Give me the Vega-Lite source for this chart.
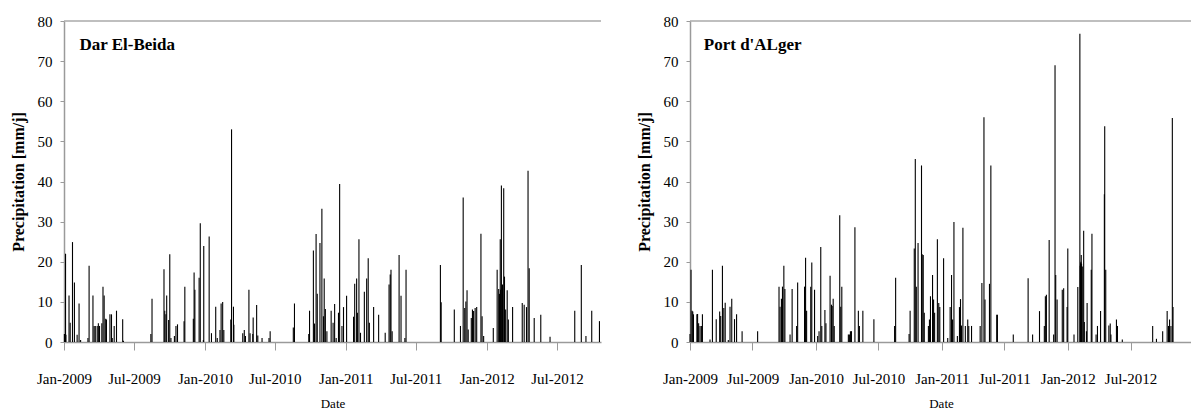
{
  "$schema": "https://vega.github.io/schema/vega-lite/v6.json",
  "background": "white",
  "padding": {"left": 10, "top": 14, "right": 0, "bottom": 0},
  "spacing": 34,
  "config": {
    "font": "Liberation Serif",
    "view": {"stroke": null},
    "axis": {
      "grid": false,
      "domainColor": "#9a9a9a",
      "domainWidth": 1.5,
      "tickColor": "#9a9a9a",
      "labelFont": "Liberation Serif",
      "labelFontSize": 14,
      "labelColor": "#000000",
      "labelOverlap": false,
      "labelFlush": false,
      "titleFont": "Liberation Serif",
      "titleColor": "#000000"
    }
  },
  "datasets": {
    "dar": [
      {"date": "2009-01-02", "p": 2}, {"date": "2009-01-03", "p": 2}, {"date": "2009-01-04", "p": 1.8}, {"date": "2009-01-05", "p": 22}, {"date": "2009-01-06", "p": 1.8},
      {"date": "2009-01-14", "p": 11.6}, {"date": "2009-01-17", "p": 4.8}, {"date": "2009-01-23", "p": 24.9}, {"date": "2009-01-28", "p": 14.8},
      {"date": "2009-02-04", "p": 1.8}, {"date": "2009-02-09", "p": 9.6}, {"date": "2009-02-13", "p": 0.5},
      {"date": "2009-03-04", "p": 1}, {"date": "2009-03-07", "p": 19}, {"date": "2009-03-17", "p": 11.6}, {"date": "2009-03-20", "p": 4}, {"date": "2009-03-23", "p": 4}, {"date": "2009-03-28", "p": 4}, {"date": "2009-03-31", "p": 4.7},
      {"date": "2009-04-03", "p": 4}, {"date": "2009-04-09", "p": 4.7}, {"date": "2009-04-12", "p": 13.8}, {"date": "2009-04-15", "p": 11.6}, {"date": "2009-04-19", "p": 5.8}, {"date": "2009-04-21", "p": 5.6}, {"date": "2009-04-30", "p": 6.9},
      {"date": "2009-05-04", "p": 6.9}, {"date": "2009-05-06", "p": 1}, {"date": "2009-05-11", "p": 4}, {"date": "2009-05-17", "p": 7.8},
      {"date": "2009-06-02", "p": 5.7}, {"date": "2009-06-04", "p": 0.3},
      {"date": "2009-08-14", "p": 2}, {"date": "2009-08-17", "p": 10.8},
      {"date": "2009-09-17", "p": 18.1}, {"date": "2009-09-19", "p": 7.8}, {"date": "2009-09-22", "p": 6.9}, {"date": "2009-09-24", "p": 11.6}, {"date": "2009-09-29", "p": 5.5},
      {"date": "2009-10-02", "p": 21.9}, {"date": "2009-10-05", "p": 1}, {"date": "2009-10-14", "p": 1.5}, {"date": "2009-10-18", "p": 4}, {"date": "2009-10-22", "p": 4.4},
      {"date": "2009-11-08", "p": 5.2}, {"date": "2009-11-10", "p": 13.8},
      {"date": "2009-12-02", "p": 5.8}, {"date": "2009-12-04", "p": 17.3}, {"date": "2009-12-06", "p": 13}, {"date": "2009-12-17", "p": 16}, {"date": "2009-12-20", "p": 29.6}, {"date": "2009-12-28", "p": 0.5}, {"date": "2009-12-29", "p": 23.9},
      {"date": "2010-01-12", "p": 26.3}, {"date": "2010-01-18", "p": 2.2}, {"date": "2010-01-29", "p": 8.8},
      {"date": "2010-02-02", "p": 1}, {"date": "2010-02-09", "p": 3}, {"date": "2010-02-12", "p": 9.6}, {"date": "2010-02-16", "p": 10}, {"date": "2010-02-19", "p": 3},
      {"date": "2010-03-09", "p": 5.6}, {"date": "2010-03-11", "p": 53}, {"date": "2010-03-16", "p": 8.8}, {"date": "2010-03-17", "p": 4.3},
      {"date": "2010-04-09", "p": 2.2}, {"date": "2010-04-13", "p": 3}, {"date": "2010-04-16", "p": 1.5}, {"date": "2010-04-25", "p": 13}, {"date": "2010-04-28", "p": 2.2},
      {"date": "2010-05-05", "p": 2}, {"date": "2010-05-06", "p": 6.1}, {"date": "2010-05-15", "p": 9.2}, {"date": "2010-05-18", "p": 1.6}, {"date": "2010-05-29", "p": 1},
      {"date": "2010-06-16", "p": 1}, {"date": "2010-06-19", "p": 2.7},
      {"date": "2010-08-18", "p": 3.6}, {"date": "2010-08-21", "p": 9.6},
      {"date": "2010-09-27", "p": 2}, {"date": "2010-09-29", "p": 7.8},
      {"date": "2010-10-09", "p": 22.8}, {"date": "2010-10-12", "p": 4.6}, {"date": "2010-10-16", "p": 26.9}, {"date": "2010-10-19", "p": 12}, {"date": "2010-10-26", "p": 24.7}, {"date": "2010-10-31", "p": 33.2},
      {"date": "2010-11-04", "p": 6.4}, {"date": "2010-11-06", "p": 15.8}, {"date": "2010-11-09", "p": 8.2}, {"date": "2010-11-13", "p": 2.7}, {"date": "2010-11-24", "p": 7.8}, {"date": "2010-11-29", "p": 4.8},
      {"date": "2010-12-03", "p": 9.5}, {"date": "2010-12-07", "p": 1}, {"date": "2010-12-13", "p": 7.3}, {"date": "2010-12-16", "p": 39.4}, {"date": "2010-12-22", "p": 4}, {"date": "2010-12-26", "p": 8.7},
      {"date": "2011-01-03", "p": 11.5}, {"date": "2011-01-21", "p": 6.3}, {"date": "2011-01-24", "p": 14.5}, {"date": "2011-01-29", "p": 15.8}, {"date": "2011-01-31", "p": 7.3},
      {"date": "2011-02-04", "p": 25.6}, {"date": "2011-02-08", "p": 2.3}, {"date": "2011-02-18", "p": 12.5}, {"date": "2011-02-24", "p": 15.8}, {"date": "2011-02-28", "p": 20.9},
      {"date": "2011-03-03", "p": 4.8}, {"date": "2011-03-14", "p": 8.7}, {"date": "2011-03-27", "p": 6.8},
      {"date": "2011-04-13", "p": 2.3}, {"date": "2011-04-23", "p": 14.3}, {"date": "2011-04-26", "p": 16.8}, {"date": "2011-04-28", "p": 18},
      {"date": "2011-05-01", "p": 2.7}, {"date": "2011-05-19", "p": 21.7}, {"date": "2011-05-24", "p": 11.5},
      {"date": "2011-06-03", "p": 1}, {"date": "2011-06-06", "p": 18},
      {"date": "2011-09-03", "p": 19.2}, {"date": "2011-09-05", "p": 9.9},
      {"date": "2011-10-09", "p": 8.1}, {"date": "2011-10-25", "p": 4},
      {"date": "2011-11-01", "p": 36}, {"date": "2011-11-05", "p": 8.5}, {"date": "2011-11-08", "p": 10.1}, {"date": "2011-11-11", "p": 12.9}, {"date": "2011-11-14", "p": 3.1}, {"date": "2011-11-22", "p": 6}, {"date": "2011-11-25", "p": 8.1}, {"date": "2011-11-28", "p": 7.7},
      {"date": "2011-12-02", "p": 8.5}, {"date": "2011-12-06", "p": 8.7}, {"date": "2011-12-17", "p": 27}, {"date": "2011-12-20", "p": 6.4}, {"date": "2011-12-24", "p": 1.5},
      {"date": "2012-01-18", "p": 3.5}, {"date": "2012-01-28", "p": 18},
      {"date": "2012-02-01", "p": 13.2}, {"date": "2012-02-03", "p": 12}, {"date": "2012-02-05", "p": 25.6}, {"date": "2012-02-06", "p": 13}, {"date": "2012-02-08", "p": 39}, {"date": "2012-02-10", "p": 13.5}, {"date": "2012-02-11", "p": 14.3}, {"date": "2012-02-14", "p": 38.3}, {"date": "2012-02-16", "p": 16.3}, {"date": "2012-02-19", "p": 8.1}, {"date": "2012-02-23", "p": 12.9}, {"date": "2012-02-26", "p": 5.6},
      {"date": "2012-03-08", "p": 8.7},
      {"date": "2012-04-02", "p": 9.7}, {"date": "2012-04-07", "p": 9.3}, {"date": "2012-04-13", "p": 8.7}, {"date": "2012-04-17", "p": 42.7}, {"date": "2012-04-20", "p": 18.4},
      {"date": "2012-05-03", "p": 6}, {"date": "2012-05-20", "p": 6.8},
      {"date": "2012-06-13", "p": 1.3},
      {"date": "2012-08-16", "p": 7.8},
      {"date": "2012-09-02", "p": 19.2}, {"date": "2012-09-14", "p": 1.5}, {"date": "2012-09-29", "p": 7.8},
      {"date": "2012-10-19", "p": 5.2}
    ],
    "port": [
      {"date": "2009-01-01", "p": 2}, {"date": "2009-01-04", "p": 18}, {"date": "2009-01-07", "p": 7.8}, {"date": "2009-01-09", "p": 7.6}, {"date": "2009-01-11", "p": 6.9},
      {"date": "2009-01-21", "p": 6.9}, {"date": "2009-01-23", "p": 7}, {"date": "2009-01-26", "p": 4.7}, {"date": "2009-01-30", "p": 4},
      {"date": "2009-02-03", "p": 4}, {"date": "2009-02-06", "p": 6.9}, {"date": "2009-02-28", "p": 0.6},
      {"date": "2009-03-07", "p": 18}, {"date": "2009-03-18", "p": 5.7}, {"date": "2009-03-28", "p": 7.6}, {"date": "2009-03-31", "p": 6.5},
      {"date": "2009-04-05", "p": 19}, {"date": "2009-04-09", "p": 8.5}, {"date": "2009-04-13", "p": 9.8}, {"date": "2009-04-22", "p": 0.5}, {"date": "2009-04-27", "p": 8.8},
      {"date": "2009-05-02", "p": 10.8}, {"date": "2009-05-10", "p": 5.7}, {"date": "2009-05-16", "p": 6.9},
      {"date": "2009-06-01", "p": 2.7}, {"date": "2009-07-16", "p": 2.7},
      {"date": "2009-09-16", "p": 13.8}, {"date": "2009-09-19", "p": 8.8}, {"date": "2009-09-23", "p": 10.8}, {"date": "2009-09-26", "p": 13.8}, {"date": "2009-09-30", "p": 19},
      {"date": "2009-10-03", "p": 13.2}, {"date": "2009-10-18", "p": 1.9}, {"date": "2009-10-24", "p": 13.2},
      {"date": "2009-11-06", "p": 4}, {"date": "2009-11-09", "p": 14.8}, {"date": "2009-11-29", "p": 13.8},
      {"date": "2009-12-02", "p": 21}, {"date": "2009-12-05", "p": 7.8}, {"date": "2009-12-17", "p": 13.8}, {"date": "2009-12-20", "p": 19.8}, {"date": "2009-12-28", "p": 13},
      {"date": "2010-01-06", "p": 1.5}, {"date": "2010-01-10", "p": 2.7}, {"date": "2010-01-15", "p": 23.7}, {"date": "2010-01-18", "p": 4}, {"date": "2010-01-27", "p": 8}, {"date": "2010-01-30", "p": 4.7},
      {"date": "2010-02-11", "p": 16.5}, {"date": "2010-02-15", "p": 9.3}, {"date": "2010-02-17", "p": 9}, {"date": "2010-02-20", "p": 10.8}, {"date": "2010-02-23", "p": 4},
      {"date": "2010-03-11", "p": 31.6}, {"date": "2010-03-14", "p": 8.8}, {"date": "2010-03-17", "p": 13.8},
      {"date": "2010-04-05", "p": 1.9}, {"date": "2010-04-08", "p": 1.9}, {"date": "2010-04-11", "p": 2.7}, {"date": "2010-04-14", "p": 2.7}, {"date": "2010-04-24", "p": 28.6},
      {"date": "2010-05-04", "p": 7.8}, {"date": "2010-05-07", "p": 4}, {"date": "2010-05-17", "p": 7.8},
      {"date": "2010-06-18", "p": 5.7},
      {"date": "2010-08-17", "p": 4}, {"date": "2010-08-20", "p": 16},
      {"date": "2010-09-28", "p": 2}, {"date": "2010-10-01", "p": 7.8}, {"date": "2010-10-13", "p": 23.3}, {"date": "2010-10-16", "p": 45.6}, {"date": "2010-10-19", "p": 13.8}, {"date": "2010-10-24", "p": 24.7},
      {"date": "2010-11-03", "p": 44}, {"date": "2010-11-05", "p": 21.9}, {"date": "2010-11-08", "p": 21.7}, {"date": "2010-11-11", "p": 7.3}, {"date": "2010-11-23", "p": 4}, {"date": "2010-11-26", "p": 5.6}, {"date": "2010-11-29", "p": 11.4},
      {"date": "2010-12-05", "p": 16.7}, {"date": "2010-12-08", "p": 10.6}, {"date": "2010-12-11", "p": 7.3}, {"date": "2010-12-19", "p": 25.6}, {"date": "2010-12-23", "p": 9.7}, {"date": "2010-12-26", "p": 8.7},
      {"date": "2011-01-06", "p": 20.9}, {"date": "2011-01-18", "p": 1}, {"date": "2011-01-25", "p": 8.7}, {"date": "2011-01-29", "p": 16.7},
      {"date": "2011-02-01", "p": 5.6}, {"date": "2011-02-05", "p": 29.9}, {"date": "2011-02-15", "p": 1.5}, {"date": "2011-02-21", "p": 8.7}, {"date": "2011-02-24", "p": 10.7}, {"date": "2011-02-27", "p": 4.1},
      {"date": "2011-03-03", "p": 28.5}, {"date": "2011-03-10", "p": 4}, {"date": "2011-03-17", "p": 5.6}, {"date": "2011-03-20", "p": 4}, {"date": "2011-03-28", "p": 4},
      {"date": "2011-04-22", "p": 4}, {"date": "2011-04-27", "p": 14.7},
      {"date": "2011-05-03", "p": 56}, {"date": "2011-05-06", "p": 10.6}, {"date": "2011-05-19", "p": 14.5}, {"date": "2011-05-23", "p": 44},
      {"date": "2011-06-09", "p": 6.8}, {"date": "2011-06-11", "p": 6.8},
      {"date": "2011-07-27", "p": 1.9},
      {"date": "2011-09-08", "p": 15.9}, {"date": "2011-09-21", "p": 1.9},
      {"date": "2011-10-11", "p": 7.7}, {"date": "2011-10-25", "p": 4}, {"date": "2011-10-28", "p": 11.4}, {"date": "2011-10-31", "p": 11.8},
      {"date": "2011-11-08", "p": 25.4}, {"date": "2011-11-21", "p": 1.9}, {"date": "2011-11-25", "p": 69}, {"date": "2011-11-27", "p": 16.7},
      {"date": "2011-12-01", "p": 10.6}, {"date": "2011-12-16", "p": 13}, {"date": "2011-12-20", "p": 13.4}, {"date": "2011-12-30", "p": 8.7},
      {"date": "2012-01-01", "p": 23.3}, {"date": "2012-01-19", "p": 1.9}, {"date": "2012-01-30", "p": 13.7},
      {"date": "2012-02-05", "p": 76.8}, {"date": "2012-02-06", "p": 19}, {"date": "2012-02-07", "p": 19.6}, {"date": "2012-02-08", "p": 20}, {"date": "2012-02-09", "p": 21.7}, {"date": "2012-02-10", "p": 19.5}, {"date": "2012-02-12", "p": 18.8}, {"date": "2012-02-16", "p": 27.7}, {"date": "2012-02-18", "p": 5}, {"date": "2012-02-24", "p": 2.7}, {"date": "2012-02-26", "p": 9.7},
      {"date": "2012-03-09", "p": 18}, {"date": "2012-03-11", "p": 27}, {"date": "2012-03-23", "p": 1.9}, {"date": "2012-03-27", "p": 4},
      {"date": "2012-04-05", "p": 7.7}, {"date": "2012-04-16", "p": 36.8}, {"date": "2012-04-17", "p": 53.8}, {"date": "2012-04-20", "p": 18}, {"date": "2012-04-29", "p": 4.1},
      {"date": "2012-05-03", "p": 4.6}, {"date": "2012-05-05", "p": 1.9}, {"date": "2012-05-21", "p": 5.6}, {"date": "2012-05-24", "p": 4},
      {"date": "2012-06-07", "p": 0.6},
      {"date": "2012-09-03", "p": 4}, {"date": "2012-09-14", "p": 0.8},
      {"date": "2012-10-02", "p": 2.7}, {"date": "2012-10-15", "p": 7.7}, {"date": "2012-10-19", "p": 4}, {"date": "2012-10-22", "p": 5.6}, {"date": "2012-10-26", "p": 4}, {"date": "2012-10-30", "p": 55.8},
      {"date": "2012-11-01", "p": 8.7}
    ],
    "one": [{"k": 1}]
  },
  "hconcat": [
    {
      "width": 537,
      "height": 321,
      "layer": [
        {
          "data": {"name": "one"},
          "mark": {"type": "rule", "color": "#aaaaaa", "strokeWidth": 1.5},
          "encoding": {"y": {"datum": 80, "type": "quantitative", "scale": {"domain": [0, 80]}}}
        },
        {
          "data": {"name": "dar"},
          "mark": {"type": "rule", "color": "#000000", "strokeWidth": 1.1},
          "encoding": {
            "x": {
              "field": "date", "type": "temporal", "title": "Date",
              "scale": {"domain": [{"year": 2009, "month": 1, "date": 1}, {"year": 2012, "month": 10, "date": 23}]},
              "axis": {
                "format": "%b-%Y", "tickSize": 8, "labelPadding": 21, "labelFontSize": 15, "titlePadding": 11, "titleFontSize": 13, "titleFontWeight": "normal",
                "values": [
                  {"year": 2009, "month": 1, "date": 1}, {"year": 2009, "month": 7, "date": 1},
                  {"year": 2010, "month": 1, "date": 1}, {"year": 2010, "month": 7, "date": 1},
                  {"year": 2011, "month": 1, "date": 1}, {"year": 2011, "month": 7, "date": 1},
                  {"year": 2012, "month": 1, "date": 1}, {"year": 2012, "month": 7, "date": 1}
                ]
              }
            },
            "y": {
              "field": "p", "type": "quantitative", "title": "Precipitation  [mm/j]",
              "scale": {"domain": [0, 80]},
              "axis": {"tickCount": 8, "tickSize": 4, "labelPadding": 8, "labelFontSize": 15, "titlePadding": 11, "titleFontSize": 16, "titleFontWeight": "bold"}
            },
            "y2": {"datum": 0}
          }
        },
        {
          "data": {"name": "one"},
          "mark": {"type": "text", "align": "left", "baseline": "middle", "font": "Liberation Serif", "fontWeight": "bold", "fontSize": 17, "color": "#000000"},
          "encoding": {
            "x": {"datum": {"year": 2009, "month": 2, "date": 10}, "type": "temporal"},
            "y": {"datum": 74, "type": "quantitative"},
            "text": {"value": "Dar El-Beida"}
          }
        }
      ]
    },
    {
      "width": 502,
      "height": 321,
      "layer": [
        {
          "data": {"name": "one"},
          "mark": {"type": "rule", "color": "#aaaaaa", "strokeWidth": 1.5},
          "encoding": {"y": {"datum": 80, "type": "quantitative", "scale": {"domain": [0, 80]}}}
        },
        {
          "data": {"name": "port"},
          "mark": {"type": "rule", "color": "#000000", "strokeWidth": 1.1},
          "encoding": {
            "x": {
              "field": "date", "type": "temporal", "title": "Date",
              "scale": {"domain": [{"year": 2009, "month": 1, "date": 1}, {"year": 2012, "month": 12, "date": 26}]},
              "axis": {
                "format": "%b-%Y", "tickSize": 8, "labelPadding": 21, "labelFontSize": 15, "titlePadding": 11, "titleFontSize": 13, "titleFontWeight": "normal",
                "values": [
                  {"year": 2009, "month": 1, "date": 1}, {"year": 2009, "month": 7, "date": 1},
                  {"year": 2010, "month": 1, "date": 1}, {"year": 2010, "month": 7, "date": 1},
                  {"year": 2011, "month": 1, "date": 1}, {"year": 2011, "month": 7, "date": 1},
                  {"year": 2012, "month": 1, "date": 1}, {"year": 2012, "month": 7, "date": 1}
                ]
              }
            },
            "y": {
              "field": "p", "type": "quantitative", "title": "Precipitation  [mm/j]",
              "scale": {"domain": [0, 80]},
              "axis": {"tickCount": 8, "tickSize": 4, "labelPadding": 8, "labelFontSize": 15, "titlePadding": 11, "titleFontSize": 16, "titleFontWeight": "bold"}
            },
            "y2": {"datum": 0}
          }
        },
        {
          "data": {"name": "one"},
          "mark": {"type": "text", "align": "left", "baseline": "middle", "font": "Liberation Serif", "fontWeight": "bold", "fontSize": 17, "color": "#000000"},
          "encoding": {
            "x": {"datum": {"year": 2009, "month": 2, "date": 10}, "type": "temporal"},
            "y": {"datum": 74, "type": "quantitative"},
            "text": {"value": "Port d'ALger"}
          }
        }
      ]
    }
  ]
}
